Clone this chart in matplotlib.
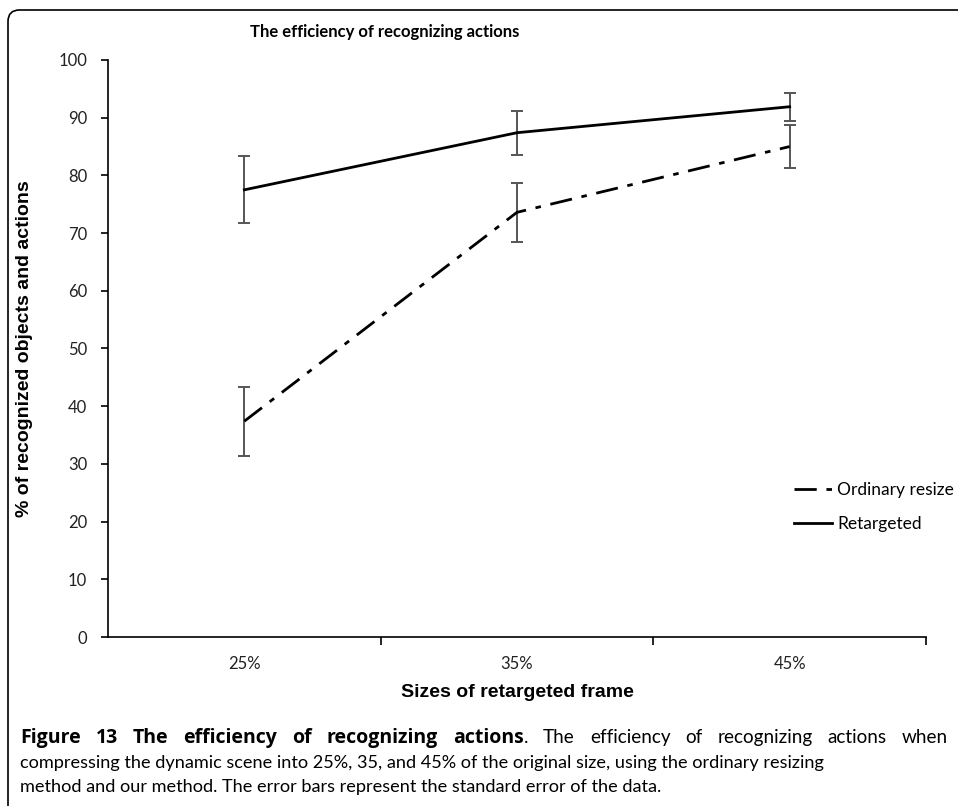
import matplotlib
matplotlib.use("Agg")
import matplotlib.pyplot as plt
from matplotlib.patches import FancyBboxPatch

categories = ["25%", "35%", "45%"]
ordinary = [37.4, 73.6, 85.0]
ordinary_err = [6.0, 5.1, 3.8]
retargeted = [77.5, 87.4, 91.9]
retargeted_err = [5.8, 3.8, 2.4]
yticks = [0, 10, 20, 30, 40, 50, 60, 70, 80, 90, 100]

W, H = 958, 806
fig = plt.figure(figsize=(W / 100, H / 100), dpi=100)

# rounded border
box = FancyBboxPatch((8 / W, -30 / H), (W + 20) / W, (H + 20) / H,
                     boxstyle="round,pad=0,rounding_size=0.012",
                     transform=fig.transFigure, fill=False, ec="black", lw=1.2,
                     mutation_aspect=W / H)
fig.patches.append(box)

ax = fig.add_axes([108 / W, 1 - 637 / H, (926 - 108) / W, (637 - 60) / H])
x = [i + 0.5 for i in range(len(categories))]

ax.errorbar(x, ordinary, yerr=ordinary_err, color="black", lw=2.0,
            dashes=[8, 3.5, 2, 3.5], ecolor="#555555", elinewidth=1.4,
            capsize=4, capthick=1.4, label="Ordinary resize")
ax.errorbar(x, retargeted, yerr=retargeted_err, color="black", lw=2.0,
            ecolor="#555555", elinewidth=1.4, capsize=4, capthick=1.4,
            label="Retargeted")

ax.set_xlim(0, 3)
ax.set_ylim(0, 100)
ax.set_yticks(yticks)
ax.set_yticklabels([str(v) for v in yticks], fontsize=12, family="Lato",
                   color="#222222")
ax.set_xticks([1, 2, 3])
ax.set_xticklabels([])
ax.set_xticks(x, minor=True)
ax.set_xticklabels(categories, minor=True, fontsize=12, family="Lato",
                   color="#222222")
ax.tick_params(axis="x", which="minor", length=0, pad=14)
ax.tick_params(axis="x", which="major", length=6, direction="out", width=1.2)
ax.tick_params(axis="y", length=5, direction="out", width=1.2, pad=10)
for s in ["top", "right"]:
    ax.spines[s].set_visible(False)
for s in ["left", "bottom"]:
    ax.spines[s].set_linewidth(1.2)

ax.set_xlabel("Sizes of retargeted frame", fontsize=14, fontweight="bold",
              family="Liberation Sans", labelpad=8)
ax.set_ylabel("% of recognized objects and actions", fontsize=14,
              fontweight="bold", family="Liberation Sans", labelpad=18)

handles, labels = ax.get_legend_handles_labels()
handles = [h[0] for h in handles]
leg = ax.legend(handles, labels, loc="upper left",
                bbox_to_anchor=((778 - 108) / (926 - 108), (637 - 466) / (637 - 60)),
                frameon=False, prop={"family": "Lato", "size": 12.5},
                handlelength=2.2, handletextpad=0.3, labelspacing=1.05)

fig.text(385 / W, 1 - 32 / H, "The efficiency of recognizing actions",
         ha="center", va="center", fontsize=12, fontweight="bold", family="Lato")

# caption
fig.canvas.draw()
r = fig.canvas.get_renderer()
cap_fs = 13.1
y1 = 1 - 743 / H
words_bold = "Figure 13 The efficiency of recognizing actions".split()
words_reg = ". The efficiency of recognizing actions when".split()
items = []
for wd in words_bold:
    t = fig.text(0, 0, wd, fontsize=14, fontweight="bold", family="Open Sans")
    items.append((t, t.get_window_extent(renderer=r).width))
for wd in words_reg:
    t = fig.text(0, 0, wd, fontsize=13.6, family="Lato")
    items.append((t, t.get_window_extent(renderer=r).width))
left, right = 20, 948
total = sum(w for _, w in items)
n_gaps = len(items) - 2
gap = (right - left - total) / n_gaps
xpos = left
for k, (t, w) in enumerate(items):
    t.set_position((xpos / W, y1))
    t.set_va("baseline")
    xpos += w
    if k != len(words_bold) - 1:
        xpos += gap
fig.text(20 / W, 1 - 763 / H,
         "compressing the dynamic scene into 25%, 35, and 45% of the original size, using the ordinary resizing",
         ha="left", va="center", fontsize=cap_fs, family="Lato")
fig.text(20 / W, 1 - 787 / H,
         "method and our method. The error bars represent the standard error of the data.",
         ha="left", va="center", fontsize=cap_fs, family="Lato")

fig.savefig("out.png", dpi=100)
